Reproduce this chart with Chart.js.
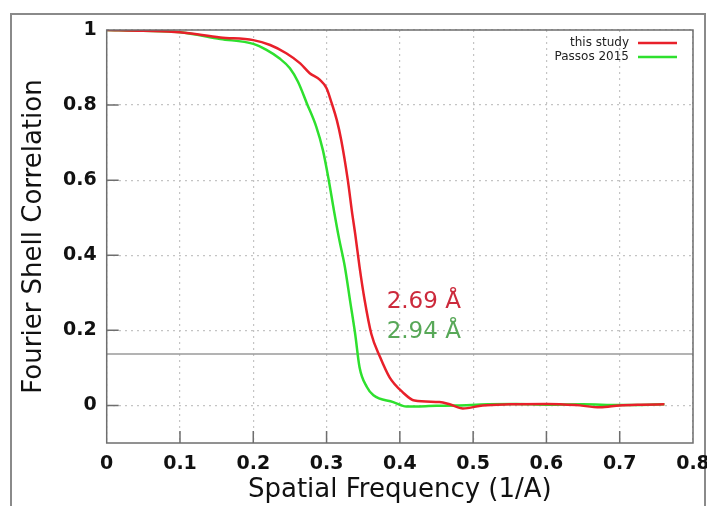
<!DOCTYPE html>
<html>
<head>
<meta charset="utf-8">
<script src="https://cdn.jsdelivr.net/npm/chart.js@4"></script>
<style>
  body { margin: 0; background: #fff; }
</style>
</head>
<body>
<canvas id="fscChart" width="707" height="506"></canvas>
<script>
// FSC curves
var freqStudy = [0, 0.05, 0.1, 0.155, 0.2, 0.223, 0.245, 0.264, 0.277, 0.291, 0.3, 0.307, 0.314, 0.32, 0.329, 0.335,
    0.339, 0.345, 0.352, 0.361, 0.373, 0.386, 0.404, 0.42, 0.454, 0.468, 0.486, 0.513, 0.55, 0.6, 0.64, 0.673, 0.7, 0.73, 0.761];
var fscStudy = [1, 0.998, 0.994, 0.98, 0.973, 0.96, 0.938, 0.911, 0.885, 0.867, 0.845, 0.805, 0.76, 0.707, 0.6, 0.511,
    0.458, 0.369, 0.28, 0.191, 0.129, 0.075, 0.035, 0.013, 0.009, 0.003, -0.008, 0, 0.003, 0.004, 0.001, -0.005, 0, 0.002, 0.003];

var freqPassos = [0, 0.05, 0.1, 0.155, 0.2, 0.218, 0.236, 0.25, 0.261, 0.273, 0.286, 0.295, 0.303, 0.31, 0.317, 0.325,
    0.332, 0.339, 0.345, 0.355, 0.364, 0.391, 0.409, 0.45, 0.477, 0.52, 0.559, 0.6, 0.65, 0.7, 0.761];
var fscPassos = [1, 0.998, 0.994, 0.976, 0.963, 0.947, 0.924, 0.898, 0.862, 0.805, 0.742, 0.68, 0.6, 0.52, 0.445, 0.369,
    0.28, 0.191, 0.102, 0.049, 0.027, 0.009, -0.003, -0.001, 0, 0.003, 0.004, 0.002, 0.003, 0.001, 0.003];

var seriesNames = ['this study', 'Passos 2015'];
var seriesColors = ['#e8202a', '#2ee02e'];
var resLabels = ['2.69 Å', '2.94 Å'];
var resLabelColors = ['#cc2a3c', '#58a858'];
var threshold = 0.137;
var xTicks = [0, 0.1, 0.2, 0.3, 0.4, 0.5, 0.6, 0.7, 0.8];
var yTicks = [0, 0.2, 0.4, 0.6, 0.8, 1];

function toPoints(xs, ys) {
    var pts = [];
    for (var i = 0; i < xs.length; i++) pts.push({x: xs[i], y: ys[i]});
    return pts;
}

// frame, plot box, inner ticks, legend and resolution labels
var decorations = {
    id: 'decorations',
    beforeDraw: function (chart) {
        var ctx = chart.ctx;
        ctx.save();
        ctx.fillStyle = '#fff';
        ctx.fillRect(0, 0, chart.width, chart.height);
        ctx.strokeStyle = '#8a8a8a';
        ctx.lineWidth = 2;
        ctx.strokeRect(11, 14, 694, 520);
        ctx.restore();
    },
    afterDraw: function (chart) {
        var ctx = chart.ctx, a = chart.chartArea;
        var xs = chart.scales.x, ys = chart.scales.y;
        ctx.save();
        ctx.strokeStyle = '#6e6e6e';
        ctx.lineWidth = 1.5;
        ctx.strokeRect(a.left, a.top, a.right - a.left, a.bottom - a.top);
        ctx.beginPath();
        yTicks.slice(0, -1).forEach(function (v) {
            var py = ys.getPixelForValue(v);
            ctx.moveTo(a.left, py);
            ctx.lineTo(a.left + 12, py);
        });
        xTicks.slice(1, -1).forEach(function (v) {
            var px = xs.getPixelForValue(v);
            ctx.moveTo(px, a.bottom);
            ctx.lineTo(px, a.bottom - 12);
        });
        ctx.stroke();

        // legend
        ctx.font = '12px "DejaVu Sans"';
        ctx.textAlign = 'right';
        ctx.textBaseline = 'middle';
        seriesNames.forEach(function (name, i) {
            var ly = 43 + i * 14;
            ctx.fillStyle = '#222';
            ctx.fillText(name, 629, ly);
            ctx.strokeStyle = seriesColors[i];
            ctx.lineWidth = 2.5;
            ctx.beginPath();
            ctx.moveTo(638, ly);
            ctx.lineTo(677, ly);
            ctx.stroke();
        });

        // resolution labels
        ctx.font = '23px "DejaVu Sans"';
        ctx.textAlign = 'left';
        var lx = xs.getPixelForValue(0.382);
        ctx.fillStyle = resLabelColors[0];
        ctx.fillText(resLabels[0], lx, ys.getPixelForValue(0.275));
        ctx.fillStyle = resLabelColors[1];
        ctx.fillText(resLabels[1], lx, ys.getPixelForValue(0.195));
        ctx.restore();
    }
};

var ctx = document.getElementById('fscChart').getContext('2d');
var fscChart = new Chart(ctx, {
    type: 'scatter',
    data: {
        datasets: [{
            label: 'threshold',
            data: [{x: 0, y: threshold}, {x: 0.8, y: threshold}],
            showLine: true,
            borderColor: '#9a9a9a',
            borderWidth: 1.5,
            pointRadius: 0,
            order: 3
        }, {
            label: seriesNames[1],
            data: toPoints(freqPassos, fscPassos),
            showLine: true,
            borderColor: seriesColors[1],
            borderWidth: 2.5,
            pointRadius: 0,
            cubicInterpolationMode: 'monotone',
            order: 2
        }, {
            label: seriesNames[0],
            data: toPoints(freqStudy, fscStudy),
            showLine: true,
            borderColor: seriesColors[0],
            borderWidth: 2.5,
            pointRadius: 0,
            cubicInterpolationMode: 'monotone',
            order: 1
        }]
    },
    options: {
        responsive: false,
        animation: false,
        layout: { padding: { top: 30, right: 14, left: 0, bottom: 0 } },
        plugins: {
            legend: { display: false },
            tooltip: { enabled: false }
        },
        scales: {
            x: {
                type: 'linear',
                min: 0,
                max: 0.8,
                afterFit: function (s) {
                    s.height = 63;
                    s.paddingLeft = 0;
                    s.paddingRight = 0;
                },
                afterBuildTicks: function (s) {
                    s.ticks = xTicks.map(function (v) { return {value: v}; });
                },
                grid: { color: '#c4c4c4', lineWidth: 1.2, drawTicks: false },
                border: { display: false, dash: [2, 4] },
                ticks: {
                    padding: 10,
                    color: '#111',
                    font: { family: 'DejaVu Sans', size: 19, weight: 'bold' },
                    maxRotation: 0
                },
                title: {
                    display: true,
                    text: 'Spatial Frequency (1/A)',
                    color: '#111',
                    font: { family: 'DejaVu Sans', size: 26 },
                    padding: { top: 0, bottom: 0 }
                }
            },
            y: {
                min: -0.1,
                max: 1,
                afterFit: function (s) {
                    s.width = 106.7;
                    s.paddingTop = 0;
                    s.paddingBottom = 0;
                },
                afterBuildTicks: function (s) {
                    s.ticks = yTicks.map(function (v) { return {value: v}; });
                },
                grid: { color: '#c4c4c4', lineWidth: 1.2, drawTicks: false },
                border: { display: false, dash: [2, 4] },
                ticks: {
                    padding: 10,
                    color: '#111',
                    font: { family: 'DejaVu Sans', size: 19, weight: 'bold' },
                    callback: function (v) { return v === 1 ? '1' : String(Math.round(v * 10) / 10); }
                },
                title: {
                    display: true,
                    text: 'Fourier Shell Correlation',
                    color: '#111',
                    font: { family: 'DejaVu Sans', size: 26 },
                    padding: { top: 19, bottom: 0 }
                }
            }
        }
    },
    plugins: [decorations]
});
</script>
</body>
</html>
